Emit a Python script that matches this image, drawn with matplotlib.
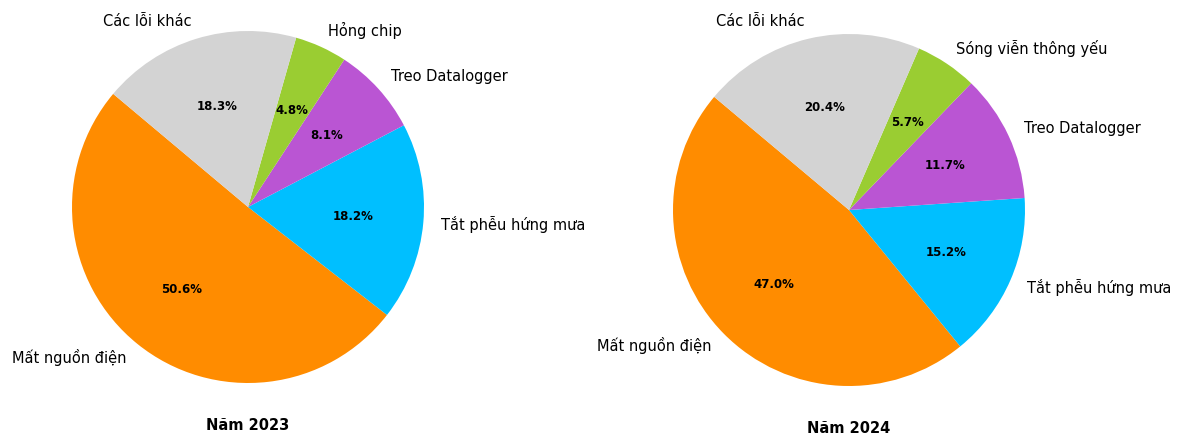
import matplotlib.pyplot as plt

# Tỷ lệ các loại lỗi theo năm
labels_2023 = ['Mất nguồn điện', 'Tắt phễu hứng mưa', 'Treo Datalogger', 'Hỏng chip', 'Các lỗi khác']
values_2023 = [50.6, 18.2, 8.1, 4.8, 18.3]

labels_2024 = ['Mất nguồn điện', 'Tắt phễu hứng mưa', 'Treo Datalogger', 'Sóng viễn thông yếu', 'Các lỗi khác']
values_2024 = [47.0, 15.2, 11.7, 5.7, 20.4]

titles = ['Năm 2023', 'Năm 2024']
colors = ['darkorange', 'deepskyblue', 'mediumorchid', 'yellowgreen', 'lightgray']

W, H = 1179, 437
fig = plt.figure(figsize=(W / 100, H / 100), dpi=100)

# tâm mỗi hình tròn (pixel, tính từ góc trên trái)
centers = [(248, 207), (849, 210)]
side = 440

for (cx, cy), labels, values, title in zip(centers, [labels_2023, labels_2024],
                                           [values_2023, values_2024], titles):
    ax = fig.add_axes([(cx - side / 2) / W, (H - cy - side / 2) / H, side / W, side / H])
    wedges, texts, autotexts = ax.pie(values, labels=labels, colors=colors,
                                      autopct='%1.1f%%', startangle=140,
                                      pctdistance=0.6, labeldistance=1.1,
                                      textprops={'fontsize': 10.5})
    for t in autotexts:
        t.set_fontsize(8.5)
        t.set_fontweight('bold')
    ax.text(0, -1.24, title, ha='center', va='center', fontsize=10.5, fontweight='bold')

fig.savefig('out.png', dpi=100)
